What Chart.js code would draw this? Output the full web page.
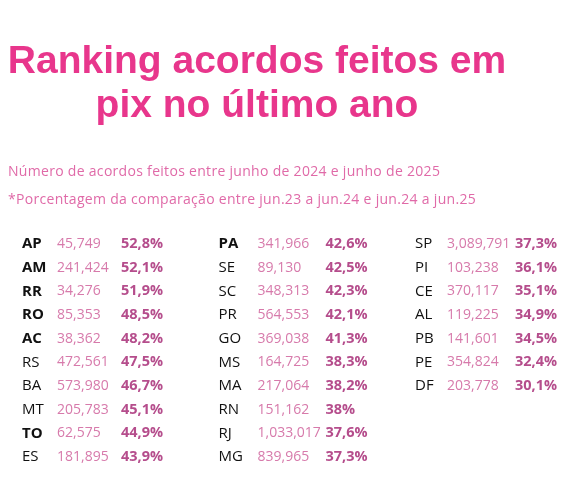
<!DOCTYPE html>
<html><head><meta charset="utf-8">
<script src="https://cdn.jsdelivr.net/npm/chart.js@4"></script>
<style>html,body{margin:0;padding:0;background:#fff}#wrap{width:580px;height:495px;position:relative}</style>
</head><body><div id="wrap"><canvas id="c"></canvas></div>
<script>
const states = [
  ["AP","AM","RR","RO","AC","RS","BA","MT","TO","ES"],
  ["PA","SE","SC","PR","GO","MS","MA","RN","RJ","MG"],
  ["SP","PI","CE","AL","PB","PE","DF"]
];
const agreements = [
  ["45,749","241,424","34,276","85,353","38,362","472,561","573,980","205,783","62,575","181,895"],
  ["341,966","89,130","348,313","564,553","369,038","164,725","217,064","151,162","1,033,017","839,965"],
  ["3,089,791","103,238","370,117","119,225","141,601","354,824","203,778"]
];
const growth = [
  ["52,8%","52,1%","51,9%","48,5%","48,2%","47,5%","46,7%","45,1%","44,9%","43,9%"],
  ["42,6%","42,5%","42,3%","42,1%","41,3%","38,3%","38,2%","38%","37,6%","37,3%"],
  ["37,3%","36,1%","35,1%","34,9%","34,5%","32,4%","30,1%"]
];
const boldStates = ["AP","AM","RR","RO","AC","TO","PA"];
const titleLines = ["Ranking acordos feitos em", "pix no último ano"];
const subtitles = [
  "Número de acordos feitos entre junho de 2024 e junho de 2025",
  "*Porcentagem da comparação entre jun.23 a jun.24 e jun.24 a jun.25"
];

const valOffset = [35, 39, 32];
const pctOffset = [99, 107, 100];

const datasets = states.map((col, ci) => ({
  data: col.map((s, ri) => ({ x: ci, y: ri })),
  pointRadius: 0
}));

const textPlugin = {
  id: "tableText",
  afterDatasetsDraw(chart) {
    const ctx = chart.ctx;
    ctx.save();
    ctx.textBaseline = "middle";
    ctx.fillStyle = "#e8368c";
    ctx.font = "bold 39px 'Liberation Sans', Arial, sans-serif";
    ctx.textAlign = "center";
    ctx.fillText(titleLines[0], 257, 62);
    ctx.fillText(titleLines[1], 257, 106);
    ctx.textAlign = "left";
    ctx.font = "14px 'Open Sans', sans-serif";
    ctx.letterSpacing = "0.3px";
    ctx.fillStyle = "#e06aa8";
    ctx.fillText(subtitles[0], 8, 172);
    ctx.fillText(subtitles[1], 8, 200);
    ctx.letterSpacing = "0px";
    states.forEach((col, ci) => {
      const meta = chart.getDatasetMeta(ci);
      col.forEach((s, ri) => {
        const p = meta.data[ri];
        ctx.fillStyle = "#111";
        ctx.font = (boldStates.includes(s) ? "bold " : "") + "15px 'Open Sans', sans-serif";
        ctx.fillText(s, p.x, p.y);
        ctx.fillStyle = "#d77aab";
        ctx.font = "14px 'Open Sans', sans-serif";
        ctx.fillText(agreements[ci][ri], p.x + valOffset[ci], p.y);
        ctx.fillStyle = "#b54d8c";
        ctx.font = "bold 14.5px 'Open Sans', sans-serif";
        ctx.fillText(growth[ci][ri], p.x + pctOffset[ci], p.y);
      });
    });
    ctx.restore();
  }
};

new Chart(document.getElementById("c"), {
  type: "scatter",
  data: { datasets },
  options: {
    responsive: true,
    maintainAspectRatio: false,
    animation: false,
    layout: { padding: { left: 22, right: 165, top: 244, bottom: 38 } },
    plugins: { legend: { display: false }, tooltip: { enabled: false } },
    scales: {
      x: { type: "linear", min: 0, max: 2, display: false },
      y: { type: "linear", min: 0, max: 9, reverse: true, display: false }
    }
  },
  plugins: [textPlugin]
});
</script></body></html>
